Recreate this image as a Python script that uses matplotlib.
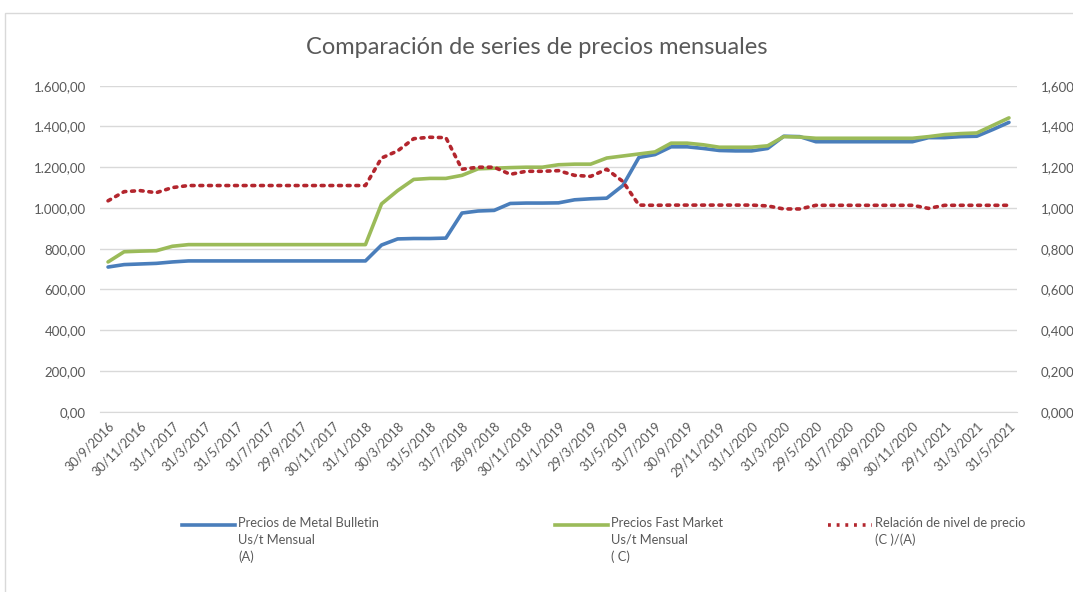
import matplotlib
matplotlib.use("Agg")
import matplotlib.pyplot as plt
from matplotlib.lines import Line2D
from matplotlib.patches import Rectangle
from matplotlib.ticker import FuncFormatter

plt.rcParams['font.family'] = ['Lato', 'DejaVu Sans']

# etiquetas visibles del eje x (una cada dos meses)
tick_labels = ["30/9/2016", "30/11/2016", "31/1/2017", "31/3/2017", "31/5/2017",
               "31/7/2017", "29/9/2017", "30/11/2017", "31/1/2018", "30/3/2018",
               "31/5/2018", "31/7/2018", "28/9/2018", "30/11/2018", "31/1/2019",
               "29/3/2019", "31/5/2019", "31/7/2019", "30/9/2019", "29/11/2019",
               "31/1/2020", "31/3/2020", "29/5/2020", "31/7/2020", "30/9/2020",
               "30/11/2020", "29/1/2021", "31/3/2021", "31/5/2021"]

# Precios de Metal Bulletin (A), 57 meses
metal_bulletin = [710, 722, 725, 728, 735,
                  740, 740, 740, 740, 740, 740, 740, 740, 740, 740, 740, 740,
                  818, 848, 850, 850, 852, 975, 985, 988, 1022, 1024, 1024, 1025,
                  1040, 1045, 1048, 1110, 1248, 1262, 1300, 1300, 1292, 1282,
                  1280, 1280, 1292, 1352, 1350,
                  1325, 1325, 1325, 1325, 1325, 1325, 1325,
                  1345, 1345, 1350, 1352, 1385, 1420]

# Precios Fast Market (C)
fast_market = [735, 785, 788, 790, 812,
               820, 820, 820, 820, 820, 820, 820, 820, 820, 820, 820, 820,
               1020, 1085, 1140, 1145, 1145, 1160, 1192, 1195, 1198, 1200, 1200,
               1212, 1215, 1215, 1245, 1255, 1265, 1275, 1318, 1318, 1310, 1298,
               1298, 1298, 1305, 1350, 1348,
               1342, 1342, 1342, 1342, 1342, 1342, 1342,
               1350, 1360, 1365, 1368, 1405, 1442]

# Relacion de nivel de precio (C)/(A)
relacion = [1.035, 1.080, 1.085, 1.075, 1.100,
            1.110, 1.110, 1.110, 1.110, 1.110, 1.110, 1.110, 1.110, 1.110, 1.110,
            1.110, 1.110,
            1.245, 1.280, 1.340, 1.347, 1.345, 1.190, 1.200, 1.200, 1.165, 1.180,
            1.180, 1.183, 1.160, 1.155, 1.190, 1.130, 1.014, 1.013, 1.014, 1.014,
            1.014, 1.014, 1.014, 1.014, 1.010, 0.995, 0.995,
            1.013, 1.013, 1.013, 1.013, 1.013, 1.013, 1.013,
            0.998, 1.013, 1.013, 1.013, 1.013, 1.013]

BLUE = "#4A7EBB"
GREEN = "#9BBB59"
RED = "#B3262E"
GRID = "#D9D9D9"
TXT = "#595959"

x = list(range(len(metal_bulletin)))

fig = plt.figure(figsize=(10.73, 5.92), dpi=100)
fig.add_artist(Rectangle((5 / 1073, -0.1), 1.2, 1 - 13 / 592 + 0.1,
                         transform=fig.transFigure, fill=False,
                         edgecolor=GRID, linewidth=1))

ax = fig.add_axes([100 / 1073, 1 - 411.7 / 592, 917 / 1073, 326 / 592])
ax2 = ax.twinx()

ax.plot(x, metal_bulletin, color=BLUE, lw=2.6, solid_capstyle='round')
ax.plot(x, fast_market, color=GREEN, lw=2.6, solid_capstyle='round')
ax2.plot(x, relacion, color=RED, lw=2.6, linestyle=(0, (0.8, 1.6)),
         dash_capstyle='round')

ax.set_xlim(-0.5, len(x) - 0.5)
ax.set_ylim(0, 1600)
ax2.set_ylim(0, 1.6)
ax.set_yticks(range(0, 1601, 200))
ax2.set_yticks([i * 0.2 for i in range(9)])
ax.yaxis.set_major_formatter(FuncFormatter(
    lambda v, p: f"{v:,.2f}".replace(",", "X").replace(".", ",").replace("X", ".")))
ax2.yaxis.set_major_formatter(FuncFormatter(lambda v, p: f"{v:.3f}".replace(".", ",")))

ax.set_xticks(x[::2])
ax.set_xticklabels(tick_labels, rotation=45, ha='right', rotation_mode='anchor')

ax.grid(axis='y', color=GRID, lw=1)
ax.set_axisbelow(True)
for a in (ax, ax2):
    for s in a.spines.values():
        s.set_visible(False)
ax.spines['bottom'].set_visible(True)
ax.spines['bottom'].set_color(GRID)
ax.tick_params(axis='both', length=0, colors=TXT, labelsize=9.5)
ax.tick_params(axis='y', pad=10)
ax.tick_params(axis='x', pad=6, labelsize=9.2)
ax2.tick_params(axis='y', length=0, colors=TXT, labelsize=9.5, pad=17)

fig.text(0.5, 1 - 47 / 592, "Comparación de series de precios mensuales",
         ha='center', va='center', fontsize=17, color=TXT)

# leyenda inferior, al estilo de Excel
entries = [
    (BLUE, '-', "Precios de Metal Bulletin\nUs/t Mensual\n(A)", 182, 235),
    (GREEN, '-', "Precios Fast Market\nUs/t Mensual\n( C)", 555, 608),
    (RED, (0, (0.8, 1.6)), "Relación de nivel de precio\n(C )/(A)", 828, 872),
]
for color, ls, label, x0, x1 in entries:
    yl = 1 - 525 / 592
    fig.add_artist(Line2D([x0 / 1073, x1 / 1073], [yl, yl], color=color, lw=2.6,
                          linestyle=ls, transform=fig.transFigure))
    fig.text((x1 + 3) / 1073, 1 - 517 / 592, label, ha='left', va='top',
             fontsize=9.3, color=TXT, linespacing=1.45)

fig.savefig("out.png", dpi=100)
